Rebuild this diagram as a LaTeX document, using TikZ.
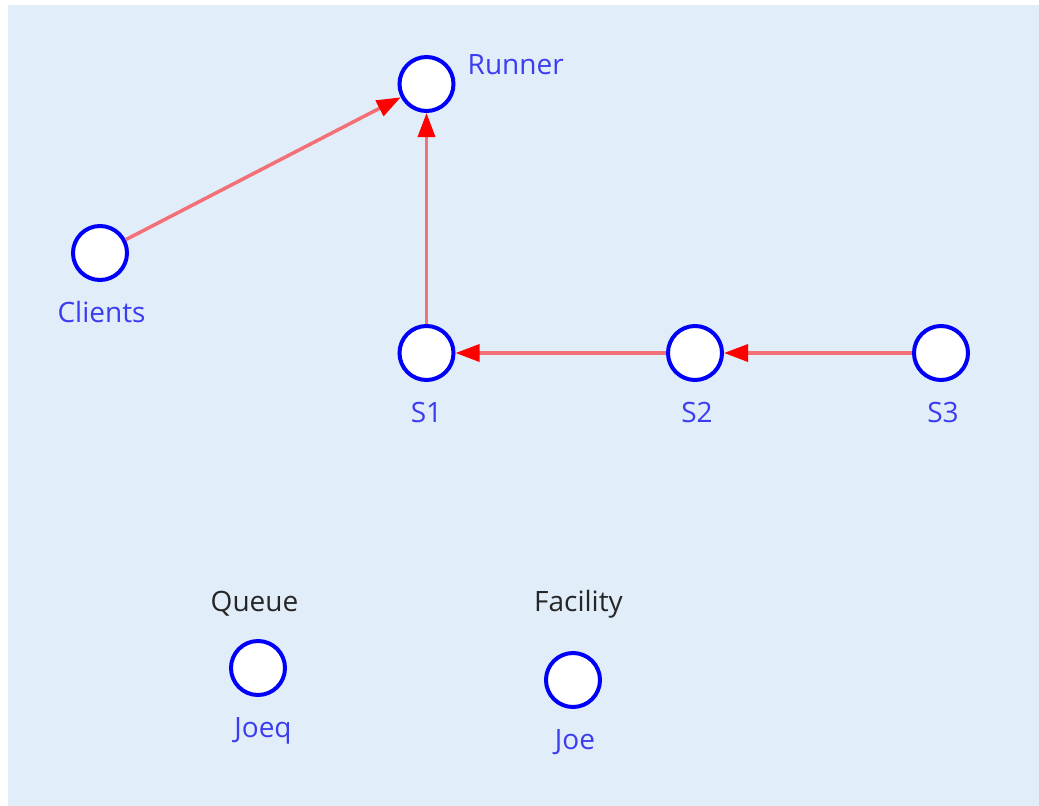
\documentclass[tikz,border=0pt]{standalone}
\usepackage{fontspec}
\setmainfont{Open Sans}
\usetikzlibrary{arrows.meta}
\definecolor{canvas}{RGB}{225,237,249}
\definecolor{ringblue}{RGB}{0,0,250}
\definecolor{tagblue}{RGB}{60,60,240}
\definecolor{linkred}{RGB}{242,112,118}
\tikzstyle{place}=[circle,draw=ringblue,fill=white,line width=4pt,minimum size=54pt,inner sep=0pt]
\tikzstyle{tag}=[text=tagblue,font=\fontsize{28}{33}\selectfont,inner sep=0pt,anchor=base]
\tikzstyle{heading}=[text=black!85,font=\fontsize{28}{33}\selectfont,inner sep=0pt,anchor=base]
\tikzstyle{link}=[draw=linkred,line width=3.5pt,-{Triangle[length=24pt,width=17pt,color=red,fill=red]}]

\begin{document}
\begin{tikzpicture}[x=1pt,y=-1pt]
    \useasboundingbox (0,0) rectangle (1039,806);
    \fill[canvas] (8,5) rectangle (1039,806);
    %Process nodes
    \node[place,label={[tag,anchor=base west,label distance=12pt,yshift=10pt]right:Runner}] (runner) at (426.5,84) {};
    \foreach \pos/\id/\txt/\dx in {{(100,253)/clients/Clients/1.5}, {(426.5,353)/s1/S1/0},
                                   {(695,353)/s2/S2/2}, {(941,353)/s3/S3/2},
                                   {(258,668)/joeq/Joeq/5}, {(573,680)/joe/Joe/2}}
    \node[place,label={[tag,label distance=40pt,xshift=\dx pt]below:\txt}] (\id) at \pos {};
    %Kind headings
    \node[heading] (queue) at (254.5,611) {Queue};
    \node[heading] (facility) at (578.5,611) {Facility};
    %Links
    \draw[link] (clients) -- (runner);
    \draw[link] (s1) -- (runner);
    \draw[link] (s2) -- (s1);
    \draw[link] (s3) -- (s2);
\end{tikzpicture}
\end{document}
